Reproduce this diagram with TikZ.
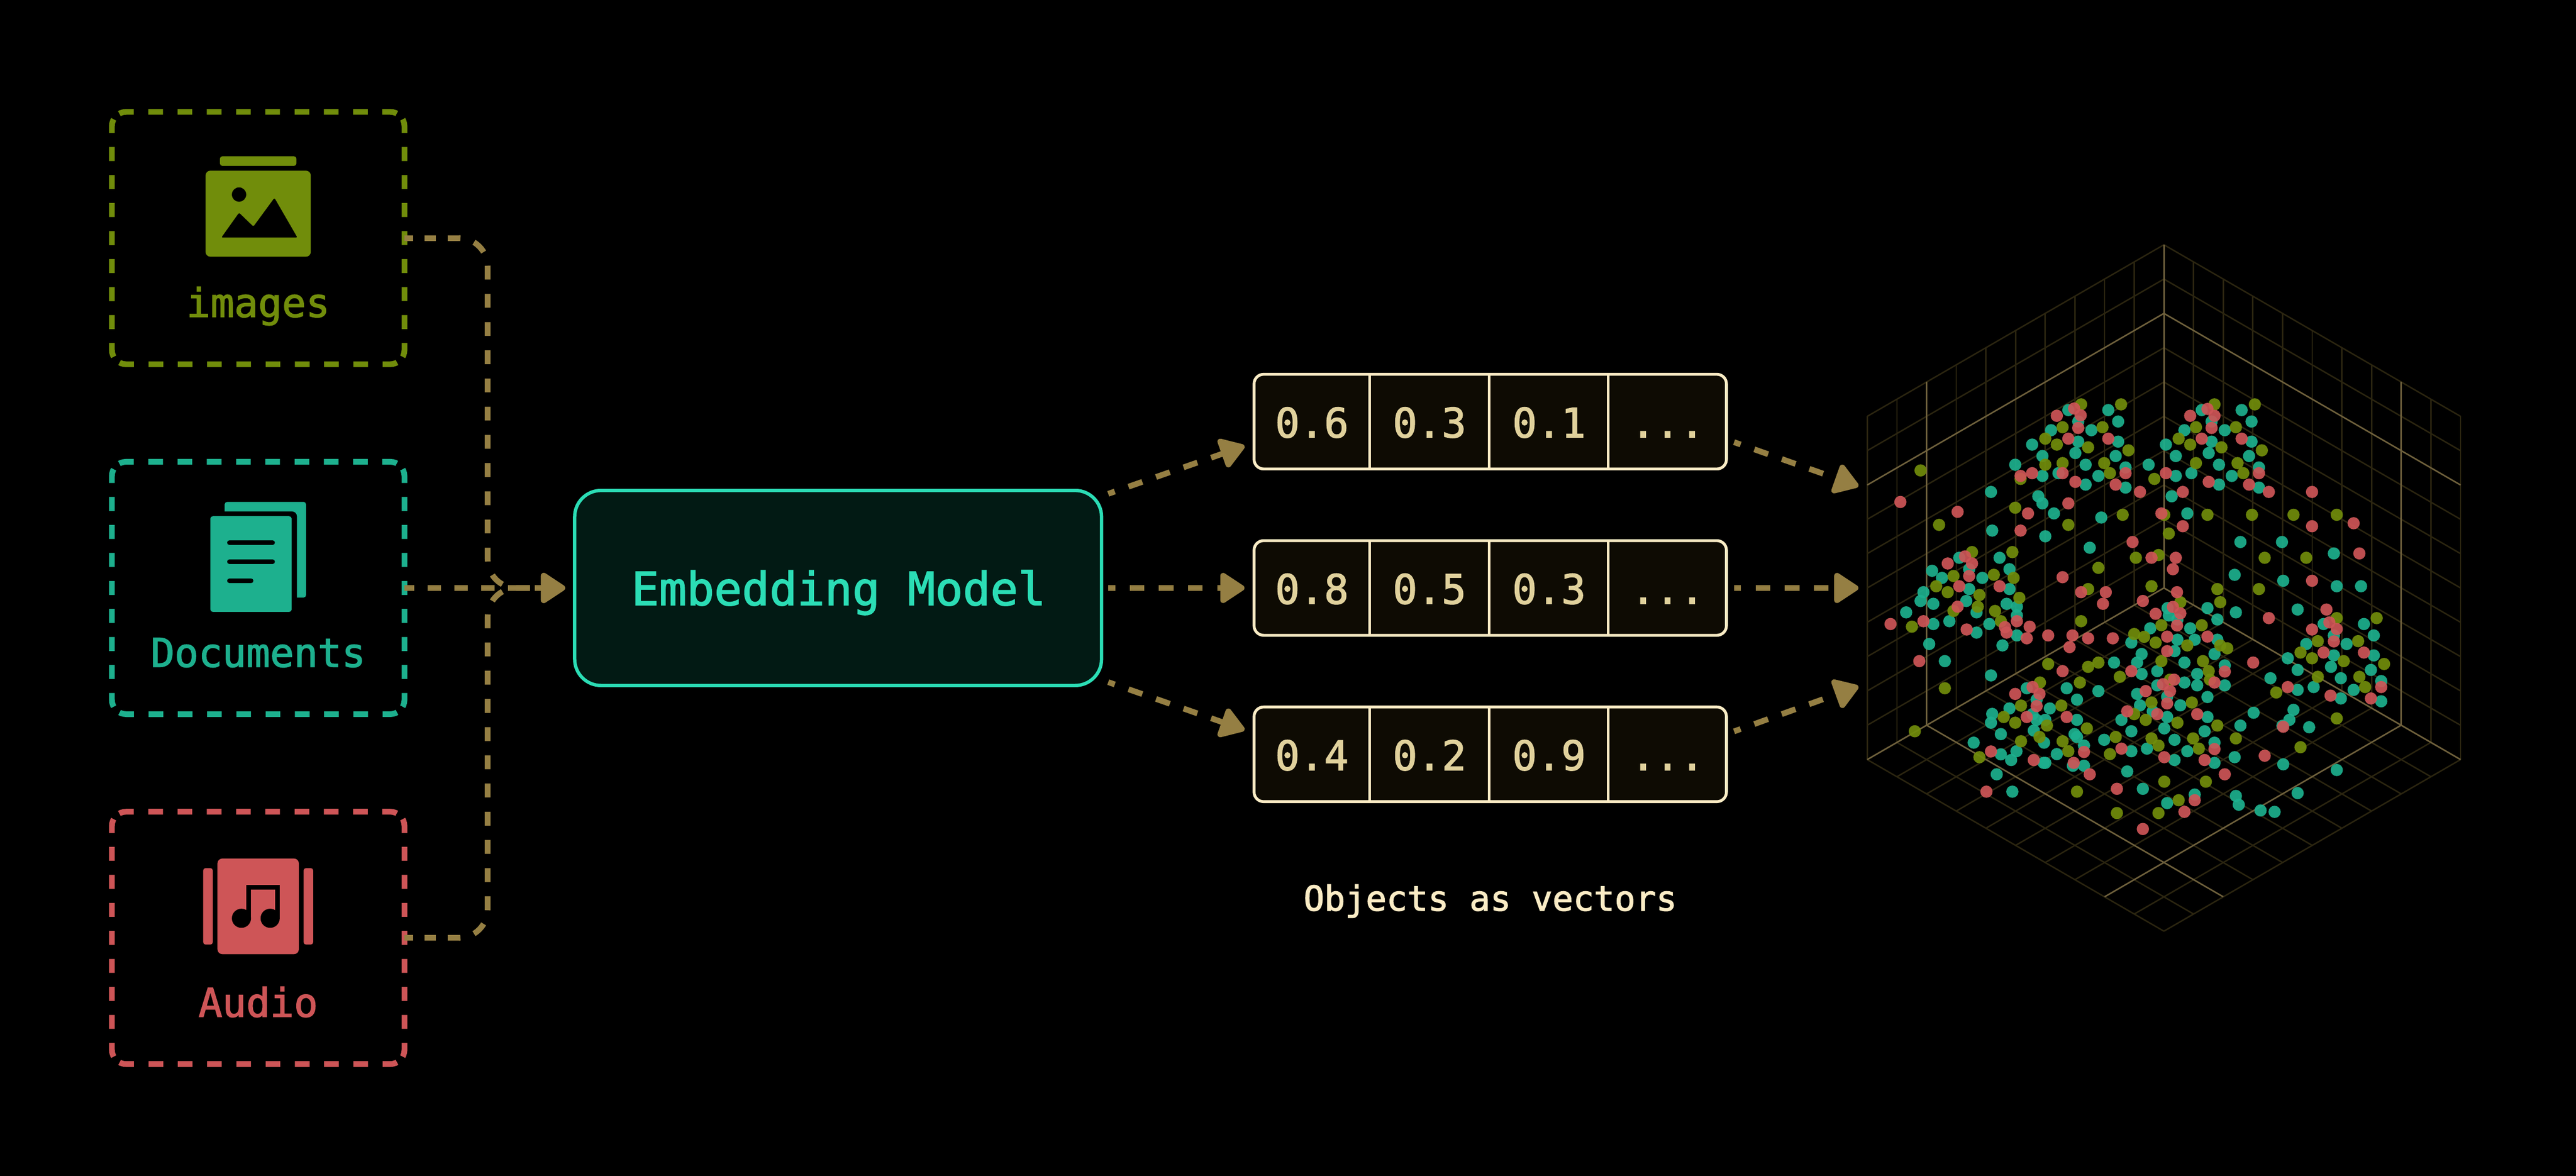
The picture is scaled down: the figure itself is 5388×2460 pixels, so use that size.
\documentclass[tikz,border=0pt]{standalone}
\usepackage{fontspec}
\setmainfont[FakeBold=2]{DejaVu Sans Mono}
\usetikzlibrary{arrows.meta, positioning}

\definecolor{olivec}{HTML}{718D0B}
\definecolor{tealc}{HTML}{1DB08E}
\definecolor{redc}{HTML}{CE5557}
\definecolor{flowc}{HTML}{957F43}
\definecolor{mintc}{HTML}{2BDDB5}
\definecolor{modelbg}{HTML}{021A14}
\definecolor{creamc}{HTML}{FBECC5}
\definecolor{numc}{HTML}{E0D19C}
\definecolor{vecbg}{HTML}{0E0B03}
\definecolor{griddim}{HTML}{2B2510}
\definecolor{gridlit}{HTML}{6E603C}

\tikzset{
  srcbox/.style={minimum width=61.2mm, minimum height=52.8mm, outer sep=0pt},
  frameh/.style={draw=#1, line width=1.2mm, dash pattern=on 3.06mm off 3.06mm, dash phase=5.265mm},
  framev/.style={draw=#1, line width=1.2mm, dash pattern=on 2.93mm off 2.93mm, dash phase=5.015mm},
  srclabel/.style={text=#1, anchor=base, font=\fontsize{23.6}{28}\selectfont},
  modelbox/.style={draw=mintc, fill=modelbg, line width=.7mm, rounded corners=5.5mm,
    minimum width=110.2mm, minimum height=40.8mm, outer sep=0pt},
  modellabel/.style={text=mintc, anchor=base, font=\fontsize{27.3}{32}\selectfont},
  vecbox/.style={draw=creamc, fill=vecbg, line width=.6mm, rounded corners=2mm,
    minimum width=98.8mm, minimum height=19.8mm, outer sep=0pt},
  vecnum/.style={text=numc, anchor=base, font=\fontsize{24.2}{28}\selectfont},
  flowrun/.style={draw=flowc, line width=1.2mm, dash pattern=on 2.4mm off 2.4mm, dash phase=.6mm},
  flow/.style={draw=flowc, line width=1.2mm, dash pattern=on 3.05mm off 3.05mm, dash phase=1.6mm,
    -{Triangle[length=5.6mm,width=7mm,round]}, rounded corners=6mm},
  griddim/.style={draw=griddim, line width=.3mm},
  gridlit/.style={draw=gridlit, line width=.3mm},
  tealdot/.style={fill=tealc, fill opacity=.92},
  olivedot/.style={fill=olivec, fill opacity=.92},
  reddot/.style={fill=redc, fill opacity=.92}
}

\newcommand{\plotdots}[2]{\foreach \px/\py in {#2} \fill[#1] (\px,\py) circle[radius=1.28mm];}
% dashed frame, side by side: centre x, centre y, colour
\newcommand{\srcframe}[3]{%
  \draw[frameh=#3] (#1-297.2,#2-255.2) arc[start angle=135,end angle=90,radius=3mm] -- (#1+276,#2-264) arc[start angle=90,end angle=45,radius=3mm];
  \draw[framev=#3] (#1+297.2,#2-255.2) arc[start angle=45,end angle=0,radius=3mm] -- (#1+306,#2+234) arc[start angle=0,end angle=-45,radius=3mm];
  \draw[frameh=#3] (#1+297.2,#2+255.2) arc[start angle=-45,end angle=-90,radius=3mm] -- (#1-276,#2+264) arc[start angle=-90,end angle=-135,radius=3mm];
  \draw[framev=#3] (#1-297.2,#2+255.2) arc[start angle=-135,end angle=-180,radius=3mm] -- (#1-306,#2-234) arc[start angle=180,end angle=135,radius=3mm];
}

\begin{document}
\begin{tikzpicture}[x=0.1mm, y=-0.1mm]
\fill[black] (0,0) rectangle (5388,2460);
\useasboundingbox (0,0) rectangle (5388,2460);

% sources
\node[srcbox] (imgbox) at (540,498) {};
\node[srcbox] (docbox) at (540,1230) {};
\node[srcbox] (audbox) at (540,1962) {};
\srcframe{540}{498}{olivec}
\srcframe{540}{1230}{tealc}
\srcframe{540}{1962}{redc}
\node[srclabel=olivec] (imglabel) at (540,663) {images};
\node[srclabel=tealc] (doclabel) at (540,1395) {Documents};
\node[srclabel=redc] (audlabel) at (540,2127) {Audio};

% picture icon
\fill[olivec, rounded corners=.5mm] (460,327) rectangle (620,347);
\fill[olivec, rounded corners=1mm] (430,357) rectangle (650,537);
\fill[black] (500,407) circle[radius=1.5mm];
\fill[black, rounded corners=.3mm] (463,497) -- (500,445) -- (530,474) -- (574,414) -- (622,497) -- cycle;

% document icon
\fill[tealc, rounded corners=.5mm] (470,1050) rectangle (640,1250);
\fill[black, rounded corners=1mm] (450,1070) rectangle (621,1290);
\fill[tealc, rounded corners=.5mm] (440,1080) rectangle (610,1280);
\draw[black, line width=1mm, line cap=round] (480,1135) -- (570,1135);
\draw[black, line width=1mm, line cap=round] (480,1175) -- (570,1175);
\draw[black, line width=1mm, line cap=round] (480,1215) -- (525,1215);

% audio icon
\fill[redc, rounded corners=.5mm] (425,1816) rectangle (445,1976);
\fill[redc, rounded corners=.5mm] (635,1816) rectangle (655,1976);
\fill[redc, rounded corners=1mm] (455,1796) rectangle (625,1996);
\draw[black, line width=1mm] (520,1921) -- (520,1856) -- (580,1856) -- (580,1921);
\fill[black] (505,1921) circle[radius=2mm];
\fill[black] (565,1921) circle[radius=2mm];

% model
\node[modelbox] (model) at (1753,1230) {};
\node[modellabel] (modeltext) at (1754,1266) {Embedding Model};
\coordinate (joinpt) at (1020,1230);
\coordinate (imgturn) at (960,498);
\coordinate (audturn) at (960,1962);
\draw[flowrun] (imgbox.east) -- (imgturn);
\draw[flowrun] (audbox.east) -- (audturn);
\draw[flow, shorten >=2mm, dash pattern=on 2.9mm off 3mm, dash phase=2.6mm] (imgturn) -| (joinpt) -- (model.west);
\draw[flow, shorten >=2mm, dash pattern=on 2.9mm off 3mm, dash phase=2.6mm] (audturn) -| (joinpt) -- (model.west);
\draw[flow, shorten >=2mm, dash pattern=on 2.8mm off 2.8mm, dash phase=.8mm] (docbox.east) -- (model.west);

% vectors
\foreach \row/\vy/\va/\vb/\vc in {1/882/0.6/0.3/0.1, 2/1230/0.8/0.5/0.3, 3/1578/0.4/0.2/0.9} {
  \node[vecbox] (vec\row) at (3117,\vy) {};
  \draw[draw=creamc, line width=.5mm] (2865,\vy-99) -- (2865,\vy+99);
  \draw[draw=creamc, line width=.5mm] (3115,\vy-99) -- (3115,\vy+99);
  \draw[draw=creamc, line width=.5mm] (3364,\vy-99) -- (3364,\vy+99);
  \node[vecnum] (num\row a) at (2744,\vy+33) {\va};
  \node[vecnum] (num\row b) at (2990,\vy+33) {\vb};
  \node[vecnum] (num\row c) at (3240,\vy+33) {\vc};
  \node[vecnum] (num\row d) at (3488,\vy+33) {...};
}
\node[text=creamc, anchor=base, font=\fontsize{20.5}{24}\selectfont] (veccap) at (3117,1905) {Objects as vectors};

% arrows
\coordinate (ma) at (2318,1033);
\coordinate (mb) at (2318,1230);
\coordinate (mc) at (2318,1427);
\coordinate (vaw) at (2603,933);
\coordinate (vbw) at (2603,1230);
\coordinate (vcw) at (2603,1527);
\coordinate (vae) at (3627,925);
\coordinate (vbe) at (3627,1230);
\coordinate (vce) at (3627,1530);
\coordinate (ca) at (3887,1017);
\coordinate (cb) at (3887,1230);
\coordinate (cc) at (3887,1436);
\draw[flow] (ma) -- (vaw);
\draw[flow] (mb) -- (vbw);
\draw[flow] (mc) -- (vcw);
\draw[flow] (vae) -- (ca);
\draw[flow] (vbe) -- (cb);
\draw[flow] (vce) -- (cc);

% cube grid
\foreach \i in {0,...,10} {
  \draw[griddim] (4526-\i*62.05,512+\i*35.9) -- ++(0,718);
  \draw[griddim] (4526+\i*62.05,512+\i*35.9) -- ++(0,718);
  \draw[griddim] (4526,512+\i*71.8) -- ++(-620.5,359);
  \draw[griddim] (4526,512+\i*71.8) -- ++(620.5,359);
  \draw[griddim] (4526-\i*62.05,1230+\i*35.9) -- ++(620.5,359);
  \draw[griddim] (4526+\i*62.05,1230+\i*35.9) -- ++(-620.5,359);
}
\draw[gridlit] (3905.5,1014.6) -- (4526,655.6) -- (5146.5,1014.6);
\draw[gridlit] (4526,512) -- (4526,1230);
\draw[gridlit] (4029.6,799) -- (4029.6,1517);
\draw[gridlit] (5022.4,799) -- (5022.4,1517);
\draw[gridlit] (3905.5,1589) -- (4526,1230) -- (5146.5,1589);
\draw[gridlit] (4029.6,1517) -- (4650,1876);
\draw[gridlit] (5022.4,1517) -- (4402,1876);

% points, upper half
\begin{scope}[shift={(3850,480)}, x=0.0861mm, y=-0.04783mm]
\plotdots{tealdot}{553/790,650/790,674/840,577/840,511/878,609/878,577/928,674/928,465/941,490/991,570/978,668/991,424/1029,595/1029,692/1041,748/1029,490/1078,529/1066,626/1078,595/1116,692/1129,365/1148,480/1167,490/1198,518/1242,633/1260,368/1317,497/1342,605/1392,877/790,974/790,998/840,901/840,835/878,933/878,901/928,998/928,790/941,814/991,894/978,992/991,919/1029,1016/1041,814/1078,852/1066,950/1078,919/1116,1016/1129,804/1167,842/1242,971/1367,1072/1367,1198/1417,288/1436,386/1436,410/1486,312/1486,222/1493}
\plotdots{olivedot}{584/765,681/765,539/865,636/865,497/915,525/941,601/953,699/966,497/1029,539/1022,640/1022,437/1091,654/1066,194/1054,424/1217,685/1248,239/1292,553/1292,908/765,1006/765,863/865,960/865,821/915,849/941,925/953,1023/966,863/1022,964/1022,978/1066,762/1091,786/1248,891/1248,999/1248,1100/1248,1205/1248,797/1330,717/1436,772/1424,1030/1436,1131/1436,626/1480,319/1411,417/1411}
\plotdots{reddot}{567/783,583/813,525/815,577/868,553/915,650/915,437/1078,465/1066,539/1066,692/1066,570/1104,668/1116,727/1148,145/1192,553/1198,284/1235,455/1242,437/1317,709/1367,891/785,908/815,849/815,901/868,877/915,974/915,790/1066,1016/1066,894/1104,992/1116,1040/1148,831/1148,1145/1148,779/1242,1246/1285,831/1298,1145/1298,755/1436,814/1436,1260/1417,807/1486,302/1430,260/1461,319/1461}
\end{scope}

% points, lower half
\begin{scope}[shift={(3850,1200)}, x=0.0861mm, y=-0.04974mm]
\plotdots{tealdot}{246/18,344/18,957/5,1075/30,1205/53,1264/53,312/65,410/65,201/78,194/115,225/127,305/115,403/127,428/139,330/163,159/163,428/176,225/212,264/200,361/212,330/248,428/260,215/296,393/302,253/368,794/145,797/176,818/193,891/145,960/163,1110/151,915/193,752/230,849/230,818/278,860/278,915/278,706/290,811/326,731/338,908/338,664/374,720/374,835/374,769/410,933/386,731/422,866/422,365/428,549/482,452/482,626/494,769/470,835/458,866/470,933/470,720/506,793/518,891/519,476/530,574/530,508/567,410/567,727/554,825/554,368/590,466/591,476/615,497/615,574/615,365/627,758/579,793/603,891/603,682/615,1003/585,1100/573,1090/615,1138/646,1073/640,971/639,469/660,389/675,706/663,786/651,884/663,568/675,574/687,640/699,811/699,494/711,323/711,908/711,591/723,744/736,427/747,525/759,706/747,842/747,957/772,389/760,414/784,493/796,497/796,564/808,591/808,811/784,908/796,1075/802,1205/826,379/844,696/832,417/917,734/905,860/929,960/935,793/965,967/972,1110/923,1020/996,1054/1002,1173/212,1271/212,1295/260,1198/260,1131/296,1229/296,1198/344,1295/344,1086/356,1110/405,1191/392,1288/405,1215/440,1313/452,1044/440,1110/489,1149/477,1246/489,1215/525,1313/537}
\plotdots{olivedot}{274/10,372/5,420/18,232/53,260/78,337/90,434/102,274/157,333/139,375/157,389/200,173/223,601/65,755/53,915/65,1016/65,825/120,922/120,584/200,779/217,877/217,713/254,737/266,765/290,842/302,922/302,939/314,504/380,626/374,601/392,779/368,880/368,894/410,678/434,253/482,484/458,581/458,800/446,897/446,438/555,536/555,755/542,853/542,396/603,501/639,424/627,713/591,741/615,818/627,1205/609,915/639,598/651,180/663,483/687,668/687,755/693,856/693,960/693,438/705,539/705,772/723,1117/730,870/736,553/747,654/759,337/772,786/875,887/875,574/917,821/953,671/1007,772/1007,1205/187,1302/187,1159/284,1257/284,1117/332,1145/356,1222/368,1320/380,1159/434,1260/434,1274/477,1058/500}
\plotdots{reddot}{312/10,539/15,1145/30,288/53,386/53,284/139,428/200,121/212,201/200,399/225,459/223,306/235,403/248,452/272,504/260,191/368,584/78,644/78,637/127,734/115,817/78,807/140,825/167,765/169,1040/187,1180/151,817/218,793/265,891/265,563/260,601/272,661/272,556/309,793/326,1002/374,933/412,539/410,706/410,466/477,483/506,424/506,810/446,783/465,908/458,741/494,800/494,793/546,476/557,452/603,549/603,696/579,769/591,866/591,1075/644,682/736,908/738,365/748,591/750,1030/766,786/772,884/784,469/784,566/796,605/844,933/844,354/917,671/905,860/953,835/1002,734/1074,1187/205,1205/233,1145/235,1198/285,1173/332,1271/332,1086/477,1313/477,1190/513,1288/525}
\end{scope}
\end{tikzpicture}
\end{document}
